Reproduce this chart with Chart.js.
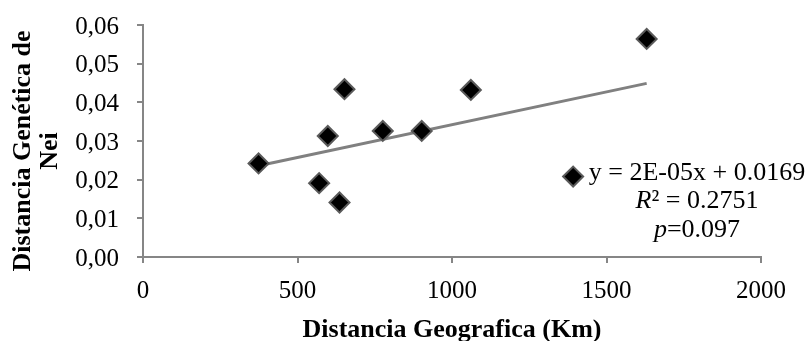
<!DOCTYPE html>
<html>
<head>
<meta charset="utf-8">
<script src="https://cdn.jsdelivr.net/npm/chart.js@4.4.0/dist/chart.umd.min.js"></script>
<style>
  html, body { margin: 0; padding: 0; background: #fff; }
  #wrap { width: 809px; height: 341px; }
</style>
</head>
<body>
<div id="wrap"><canvas id="myChart"></canvas></div>
<script>
// data
const distKm = [374, 570, 598, 636, 652, 776, 902, 1061, 1392, 1630];
const neiDist = [0.0242, 0.0191, 0.0313, 0.0141, 0.0434, 0.0326, 0.0326, 0.0432, 0.0208, 0.0564];
const trendX = [374, 1630];
const trendY = [0.0236, 0.0449];
const xTickValues = [0, 500, 1000, 1500, 2000];
const yTickValues = [0, 0.01, 0.02, 0.03, 0.04, 0.05, 0.06];
const xTitle = 'Distancia Geografica (Km)';
const yTitle = ['Distancia Genética de', 'Nei'];
const eqText = ['y = 2E-05x + 0.0169', 'R', '² = 0.2751', 'p', '=0.097'];

const serif = '"Liberation Serif", "Times New Roman", serif';
const axisGray = '#868686';

const pointsData = distKm.map((x, i) => ({ x: x, y: neiDist[i] }));
const trendData = trendX.map((x, i) => ({ x: x, y: trendY[i] }));

// draws a line of mixed italic / roman pieces centred on cx
function mixedLine(ctx, parts, cx, y) {
  let total = 0;
  parts.forEach(p => {
    ctx.font = (p.italic ? 'italic ' : '') + '26px ' + serif;
    p.w = ctx.measureText(p.text).width;
    total += p.w;
  });
  let x = cx - total / 2;
  parts.forEach(p => {
    ctx.font = (p.italic ? 'italic ' : '') + '26px ' + serif;
    ctx.fillText(p.text, x, y);
    x += p.w;
  });
}

// axis titles + regression text, drawn on the canvas
const labelsPlugin = {
  id: 'labelsPlugin',
  afterDraw: function(chart) {
    const ctx = chart.ctx;
    const area = chart.chartArea;
    ctx.save();
    ctx.fillStyle = '#000';
    ctx.textBaseline = 'alphabetic';
    ctx.textAlign = 'center';

    // x title
    ctx.font = 'bold 26px ' + serif;
    ctx.fillText(xTitle, (area.left + area.right) / 2, 337);

    // y title, two lines rotated
    ctx.save();
    ctx.translate(30, 151);
    ctx.rotate(-Math.PI / 2);
    ctx.fillText(yTitle[0], 0, 0);
    ctx.fillText(yTitle[1], 0, 27);
    ctx.restore();

    // equation block
    ctx.textAlign = 'left';
    const cx = 697;
    mixedLine(ctx, [{ text: eqText[0] }], cx, 180);
    mixedLine(ctx, [{ text: eqText[1], italic: true }, { text: eqText[2] }], cx, 208);
    mixedLine(ctx, [{ text: eqText[3], italic: true }, { text: eqText[4] }], cx, 237);

    ctx.restore();
  }
};

const ctx = document.querySelector('#myChart').getContext('2d');

// eslint-disable-next-line no-undef
const myChart = new Chart(ctx, {
  type: 'scatter',
  data: {
    datasets: [
      {
        label: 'Distancia',
        data: pointsData,
        pointStyle: 'rectRot',
        pointRadius: 10,
        pointHoverRadius: 10,
        backgroundColor: '#000000',
        borderColor: '#5a5a5a',
        borderWidth: 2,
        order: 1
      },
      {
        label: 'Lineal',
        type: 'line',
        data: trendData,
        borderColor: '#808080',
        borderWidth: 3,
        pointRadius: 0,
        fill: false,
        order: 2
      }
    ]
  },
  options: {
    responsive: true,
    maintainAspectRatio: false,
    animation: false,
    layout: { padding: { top: 25, right: 48, left: 0, bottom: 0 } },
    plugins: {
      legend: { display: false },
      tooltip: { enabled: false }
    },
    scales: {
      x: {
        type: 'linear',
        min: 0,
        max: 2000,
        afterBuildTicks: function(scale) {
          scale.ticks = xTickValues.map(v => ({ value: v }));
        },
        afterFit: function(scale) {
          scale.height = 84;
          scale.paddingLeft = 0;
          scale.paddingRight = 0;
        },
        grid: { drawOnChartArea: false, drawTicks: true, tickLength: 6, color: axisGray, lineWidth: 2 },
        border: { display: true, color: axisGray, width: 2 },
        ticks: {
          color: '#000',
          padding: 13,
          maxRotation: 0,
          font: { family: serif, size: 25 },
          callback: function(value) { return String(value); }
        }
      },
      y: {
        type: 'linear',
        min: 0,
        max: 0.06,
        afterBuildTicks: function(scale) {
          scale.ticks = yTickValues.map(v => ({ value: v }));
        },
        afterFit: function(scale) {
          scale.width = 143;
          scale.paddingTop = 0;
          scale.paddingBottom = 0;
        },
        grid: { drawOnChartArea: false, drawTicks: true, tickLength: 6, color: axisGray, lineWidth: 2 },
        border: { display: true, color: axisGray, width: 2 },
        ticks: {
          color: '#000',
          padding: 18,
          labelOffset: 2,
          font: { family: serif, size: 25 },
          callback: function(value) { return value.toFixed(2).replace('.', ','); }
        }
      }
    }
  },
  plugins: [labelsPlugin]
});
</script>
</body>
</html>
